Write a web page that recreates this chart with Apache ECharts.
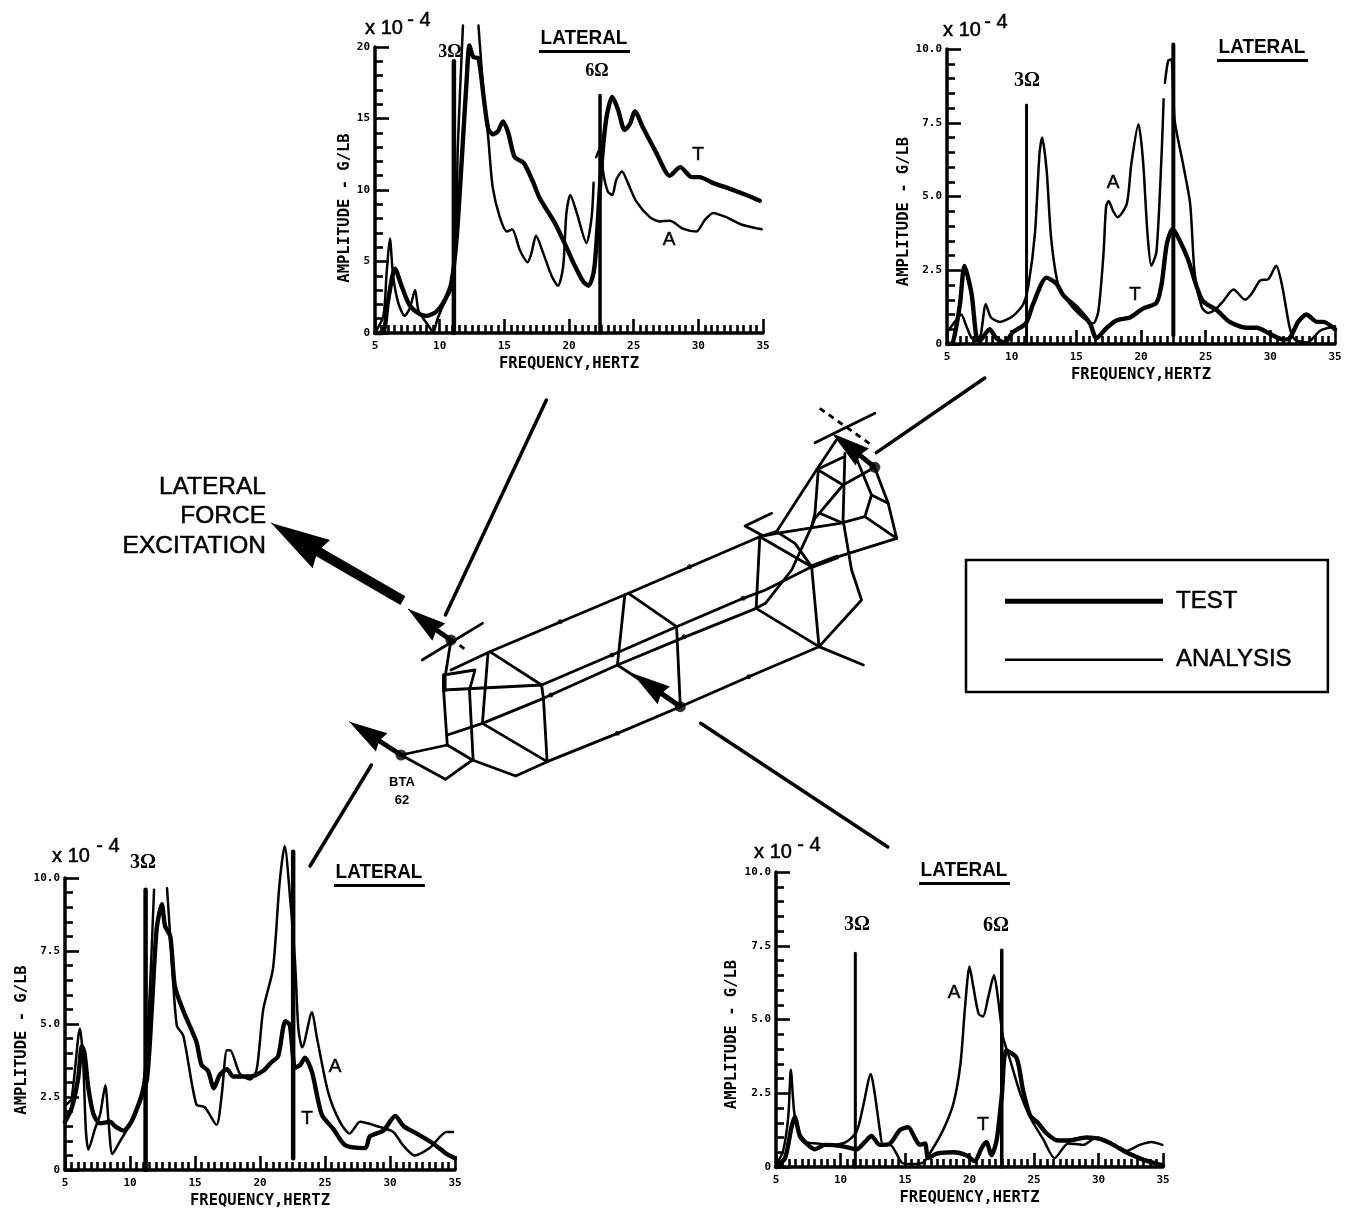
<!DOCTYPE html>
<html><head><meta charset="utf-8">
<style>html,body{margin:0;padding:0;background:#fff}#c{width:1346px;height:1210px;filter:blur(0.4px)}</style>
<script src="https://cdn.jsdelivr.net/npm/echarts@6/dist/echarts.min.js"></script>
</head><body><div id="c"></div>
<script>
// ---- Frequency-response curves: [frequency Hz, amplitude] ----
const topLeftTest=[[5,0],[5.6,0],[6,2.2],[6.55,4.5],[7.05,3.3],[7.7,1.9],[8.5,1.3],[9,1.2],[9.75,1.5],[10.4,2.3],[10.9,3.5],[11.3,6.5],[11.7,12],[12.1,17.9],[12.3,20.1],[12.6,19.3],[13,19.2],[13.4,16.5],[13.75,14.3],[14.1,13.9],[14.5,14.1],[14.9,14.8],[15.3,14],[15.8,12.3],[16.5,11.9],[17.2,10.6],[17.75,9.4],[18.9,7.7],[19.8,6],[20.45,4.7],[21.1,3.6],[21.5,3.3],[21.9,4.2],[22.1,6],[22.5,11.6],[22.9,15.1],[23.35,16.5],[23.8,15.6],[24.3,14.2],[24.7,14.6],[25.1,15.5],[25.7,14.4],[26.75,12.6],[27.8,11],[28.6,11.6],[29.5,10.9],[30.1,10.9],[31.1,10.5],[32.4,10.1],[33.7,9.65],[34.75,9.25]];
const topLeftAnalysis=[[5,0],[5.65,1.2],[5.9,4.2],[6.15,6.6],[6.4,4],[6.8,2.1],[7.3,1.2],[7.7,1.75],[8.1,3],[8.35,1.6],[8.75,1],[9.25,0.35],[9.5,0],[9.8,0.9],[10.4,2.2],[11,3.3],[11.3,8.1],[11.4,13],[11.8,21.5],[12.4,null],[13,21.5],[13.4,16.7],[13.75,13.7],[14.1,10.2],[14.65,8.1],[15.2,7.1],[15.6,7.25],[16.2,5.8],[16.8,4.95],[17.1,5.6],[17.45,6.8],[18,5.6],[18.65,4],[19.15,3.3],[19.55,4.65],[19.8,8.4],[20.1,9.65],[20.6,8.4],[21.35,6.3],[21.75,8.1],[21.9,10.5],[22,null],[22.1,12.3],[22.45,13],[22.65,11.2],[23,9.9],[23.35,9.65],[23.65,10.7],[24.1,11.3],[24.55,10.5],[25.2,9.2],[26.25,8.1],[27,7.8],[27.8,7.85],[28.8,7.3],[29.85,7.1],[30.5,7.9],[31.15,8.4],[32.15,8.1],[33.45,7.55],[34.9,7.25]];
const topLeft3P=[[11.1,0],[11.1,19]];
const topLeft6P=[[22.4,0],[22.4,16.6]];

const topRightTest=[[5,0],[5.45,0.05],[6,1.35],[6.35,2.65],[6.9,1.7],[7.25,0.3],[7.5,0.1],[8.3,0.5],[8.8,0.2],[9.45,0.05],[10.1,0.4],[11.1,0.7],[11.65,1.35],[12.7,2.25],[13.45,2.05],[14,1.65],[15,1.25],[16.05,0.7],[16.55,0.2],[17.35,0.55],[18.1,0.8],[19.15,0.9],[20.15,1.2],[21.2,1.4],[21.6,2.05],[22,3.4],[22.45,3.9],[23,3.5],[23.65,2.85],[24.3,1.95],[24.8,1.45],[25.85,1.15],[26.85,0.75],[28.15,0.55],[28.95,0.55],[29.95,0.35],[31,0.15],[31.5,0.2],[32.15,0.75],[32.8,1],[33.6,0.75],[34.1,0.75],[35,0.5]];
const topRightAnalysis=[[5,0.4],[5.7,0.8],[6.1,1],[6.5,0.6],[6.9,0.2],[7.25,0.1],[7.6,0.3],[8,1.35],[8.4,0.9],[9.1,0.75],[10.1,0.95],[10.9,1.35],[11.3,2],[11.8,3.75],[12.15,6.45],[12.35,7],[12.7,5.9],[13.05,3.6],[13.6,2],[14.25,1.5],[15.25,1],[16.3,0.7],[16.7,1.1],[17.1,3.05],[17.3,4.65],[17.5,4.85],[17.85,4.5],[18.2,4.3],[18.9,4.75],[19.25,6.1],[19.8,7.45],[20.15,6.25],[20.5,3.75],[20.8,2.65],[21.2,3.15],[21.6,6.5],[21.75,8.3],[21.8,null],[21.85,8.85],[22.1,9.6],[22.35,9.65],[22.6,7.6],[23.25,6.1],[23.8,4.75],[24.15,2.4],[24.7,1.25],[25.2,1.05],[25.7,1.15],[26.35,1.45],[27.15,1.85],[28.05,1.5],[28.55,1.7],[29.2,2.15],[29.85,2.2],[30.45,2.65],[30.9,2],[31.5,0.55],[31.9,0.15],[32.85,0.05],[33.85,0.45],[35,0.6]];
const topRight3P=[[11.15,0],[11.15,8.1]];
const topRight6P=[[22.5,0.3],[22.5,10.15]];

const bottomLeftTest=[[5,1.65],[5.5,2.1],[6,3.1],[6.3,4.25],[6.5,4],[6.8,2.8],[7.2,1.9],[7.7,1.6],[8.45,1.65],[8.85,1.5],[9.5,1.35],[10.1,1.65],[10.75,2.35],[11.3,3.1],[11.65,5.3],[12.05,8.25],[12.45,9.1],[12.7,8.35],[13.1,8],[13.45,6.3],[14.1,5.45],[15.1,4.4],[15.5,3.6],[16,3.4],[16.45,2.8],[16.9,3.25],[17.45,3.45],[17.95,3.2],[19.25,3.2],[20.25,3.4],[20.9,3.7],[21.4,3.9],[21.95,5.1],[22.3,4.95],[22.7,3.5],[23.1,3.6],[23.45,3.85],[24,3.35],[24.75,1.9],[25.65,1.4],[26.55,0.85],[28.1,0.75],[28.45,1.15],[29.5,1.35],[30.4,1.85],[31.05,1.5],[32.05,1.25],[33.35,0.9],[34.35,0.55],[35,0.4]];
const bottomLeftAnalysis=[[5,2.2],[5.5,2.45],[6.15,4.85],[6.4,3.7],[6.6,1.4],[6.8,0.7],[7.3,1.4],[7.7,1.9],[8.1,2.9],[8.35,1.65],[8.65,0.55],[9.25,1],[10.1,1.65],[11,2.9],[11.4,5],[11.85,9.6],[12.4,null],[12.85,9.65],[13.2,7.3],[13.6,4.95],[14.1,4.6],[15.1,2.25],[15.75,2.15],[16.65,1.55],[17.05,2.55],[17.45,4.1],[17.7,4.1],[18.45,3.3],[19.25,3.1],[19.75,3.45],[20.25,5.5],[21,6.9],[21.5,9.8],[21.9,11.1],[22.3,9.4],[22.7,7.1],[22.95,4.85],[23.25,4.2],[24,5.4],[24.35,4.6],[25.25,2.65],[26.15,1.65],[26.9,1.25],[27.7,1.65],[29,1.5],[30.25,1.3],[31,0.85],[31.9,0.5],[33.05,0.75],[34.35,1.3],[34.85,1.3]];
const bottomLeft3P=[[11.2,0],[11.2,9.6]];
const bottomLeft6P=[[22.55,0.4],[22.55,10.9]];

const bottomRightTest=[[5,0],[5.7,0.3],[6.2,1.35],[6.45,1.7],[6.85,1.05],[7.35,0.8],[8,0.6],[8.8,0.75],[10.2,0.7],[11.25,0.6],[11.9,0.85],[12.4,1.05],[13.05,0.75],[13.85,0.8],[14.6,1.25],[15.25,1.35],[15.75,1],[16.15,0.75],[16.55,0.8],[16.8,0.3],[17.45,0.45],[18.75,0.5],[19.75,0.4],[20.4,0.2],[20.95,0.65],[21.3,0.85],[21.7,0.4],[22.1,0.9],[22.5,2.4],[22.85,3.95],[23.65,3.7],[24.15,2.6],[24.7,1.75],[25.3,1.5],[25.95,1.15],[26.85,0.9],[27.75,0.9],[29.05,1],[30.1,0.95],[31.15,0.75],[32.15,0.5],[33.45,0.25],[34.6,0.1],[35,0.05]];
const bottomRightAnalysis=[[5,0.05],[5.55,0.55],[5.95,1.7],[6.15,3.3],[6.4,1.9],[6.7,1.25],[7.35,0.85],[8.15,0.8],[9.45,0.75],[10.45,0.85],[11.25,1.2],[11.75,2.05],[12.35,3.15],[12.65,2.5],[13.05,1.25],[13.3,0.75],[13.85,0.75],[14.75,0.15],[15.4,0.1],[16.4,0.15],[17.05,0.55],[17.95,1.25],[18.75,2.15],[19.3,3.5],[19.65,5.4],[20,6.8],[20.3,6.1],[20.7,5.2],[21.05,5.1],[21.45,5.75],[21.9,6.5],[22.2,5.75],[22.6,4.4],[23.1,3.7],[24,2.4],[24.8,1.6],[25.7,0.95],[26.6,0.3],[27.65,0.8],[28.8,0.75],[29.85,1],[30.85,0.85],[32.15,0.55],[33.2,0.75],[34.1,0.85],[34.95,0.75]];
const bottomRight3P=[[11.15,0],[11.15,7.25]];
const bottomRight6P=[[22.5,0],[22.5,7.35]];

// ---- Airframe diagram, in the diagram's own coordinates ----
const wireframe=[
[[300,840],[405,785],[780,610],[1135,440],[1180,425]],
[[780,610],[910,710]],[[770,615],[750,825]],
[[405,785],[545,885]],[[400,790],[385,1000]],
[[545,885],[735,795],[910,710],[1090,625],[1150,600],[1275,530],[1347,500],[1505,445]],
[[550,925],[750,825],[935,740],[1125,655]],
[[290,1035],[385,1000],[550,925]],
[[545,885],[550,925],[560,1115]],[[385,1000],[560,1115]],
[[280,900],[545,885]],
[[280,855],[280,900],[290,1065]],
[[280,855],[365,840],[350,900],[360,1110]],
[[300,750],[285,855]],
[[290,1065],[165,1095],[285,1168],[358,1110],[475,1158],[560,1115]],
[[290,1065],[358,1110]],
[[560,1115],[750,1030],[920,950],[1105,860],[1295,770]],
[[910,710],[920,950]],[[750,825],[920,950]],
[[1135,440],[1125,655],[1295,770]],
[[1135,440],[1275,530],[1295,770]],
[[1295,770],[1415,825]],
[[1180,425],[1288,240],[1342,150]],
[[1293,240],[1284,370],[1275,410],[1221,540],[1150,640],[1125,655]],
[[1293,240],[1360,285],[1441,235]],
[[1360,285],[1284,385],[1275,410]],
[[1365,190],[1360,390],[1383,540],[1410,630],[1295,770]],
[[1297,235],[1360,202]],
[[1446,235],[1482,340],[1505,445],[1419,380],[1437,315],[1396,205]],
[[1437,315],[1482,340]],
[[1419,380],[1351,400],[1180,430],[1135,440]],
[[1297,370],[1360,400]],
[[1180,425],[1230,460],[1275,530]],
[[1167,370],[1095,408],[1140,435]],
[[1284,158],[1446,70]],[[222,810],[385,700]]];
const wireThick=[[[1275,530],[1347,500]],[[282,855],[282,905]]];
const rotorDashes=[[[1297,55],[1437,165]],[[300,745],[340,780]]];
const leaders=[
[[558,30],[285,675]],[[1450,188],[1743,-36]],
[[975,1000],[1481,1371]],[[85,1125],[-81,1428]]];
// arrow shafts run from the gauge node into the back of the head; heads run from there to the tip
const arrowShafts=[[[165,1095],[90,1041]],[[920,950],[850,896]],[[300,750],[245,708]],[[1446,232],[1390,182]]];
const arrowHeads=[[[111,1056],[25,995]],[[874,915],[790,850]],[[268,727],[184,657]],[[1411,200],[1330,130]]];
const forceShaft=[[[170,632],[-90,465]]];
const forceHead=[[[-51,492],[-186,399]]];
const framePins=[[595,695],[945,530],[1090,625],[930,740],[570,915],[735,795],[750,1030],[1105,860]];
const gaugeNodes=[[300,750],[920,950],[165,1095],[1446,232]];

const yLabelsFull=['0','2.5','5.0','7.5','10.0'];
const yLabelsTopLeft=['0','5','10','15','20'];

// ---- Layout ----
const panels=[
 {box:[375,47,388,286],max:20,step:5,labels:yLabelsTopLeft,test:topLeftTest,ana:topLeftAnalysis,p3:topLeft3P,p6:topLeft6P,nameGap:22,shift:36,w3:4.5,w6:3.5},
 {box:[947,49,388,295],max:10,step:2.5,labels:yLabelsFull,test:topRightTest,ana:topRightAnalysis,p3:topRight3P,p6:topRight6P,nameGap:35,shift:30,w3:3,w6:4},
 {box:[65,878,390,295],max:10,step:2.5,labels:yLabelsFull,test:bottomLeftTest,ana:bottomLeftAnalysis,p3:bottomLeft3P,p6:bottomLeft6P,nameGap:35,shift:32,w3:4.5,w6:4.5},
 {box:[776,872,387,295],max:10,step:2.5,labels:yLabelsFull,test:bottomRightTest,ana:bottomRightAnalysis,p3:bottomRight3P,p6:bottomRight6P,nameGap:36,shift:30,w3:3,w6:3.5}
];
const MONO='"DejaVu Sans Mono",monospace', SANS='"Liberation Sans",Arial,sans-serif', SERIF='"Liberation Serif",serif';
const HEAD='path://M50,50 L64,100 L50,96 L36,100 Z M0,0 L0,0 M100,100 L100,100';
const grids=[],xAxes=[],yAxes=[],series=[];
panels.forEach((p,i)=>{
  grids.push({left:p.box[0],top:p.box[1],width:p.box[2],height:p.box[3]});
  xAxes.push({type:'value',gridIndex:i,min:5,max:35,interval:5,
    axisLine:{lineStyle:{color:'#000',width:3.5}},
    axisTick:{inside:true,length:14,lineStyle:{color:'#000',width:2.6}},
    minorTick:{show:true,splitNumber:10,length:8,lineStyle:{color:'#000',width:2.6}},
    splitLine:{show:false},minorSplitLine:{show:false},
    axisLabel:{color:'#000',fontFamily:MONO,fontWeight:'bold',fontSize:11,margin:8,showMinLabel:true,showMaxLabel:true},
    name:'FREQUENCY,HERTZ',nameLocation:'middle',nameGap:23,
    nameTextStyle:{color:'#000',fontFamily:MONO,fontWeight:'bold',fontSize:15.5}});
  yAxes.push({type:'value',gridIndex:i,min:0,max:p.max,interval:p.step,
    axisLine:{show:true,lineStyle:{color:'#000',width:3.5}},
    axisTick:{show:true,inside:true,length:14,lineStyle:{color:'#000',width:2.6}},
    minorTick:{show:true,splitNumber:5,length:8,lineStyle:{color:'#000',width:2.6}},
    splitLine:{show:false},minorSplitLine:{show:false},
    axisLabel:{color:'#000',fontFamily:MONO,fontWeight:'bold',fontSize:11,margin:5,showMinLabel:true,showMaxLabel:true,
      formatter:(v)=>p.labels[Math.round(v/p.step)]},
    name:'AMPLITUDE - G/LB',nameLocation:'middle',nameGap:p.nameGap,nameRotate:90,
    nameTextStyle:{color:'#000',fontFamily:MONO,fontWeight:'bold',fontSize:15.5,padding:[0,p.shift,0,0]}});
  const line=(name,data,w,smooth)=>({type:'line',name,xAxisIndex:i,yAxisIndex:i,data,symbol:'none',smooth,clip:false,z:3,
    animation:false,lineStyle:{color:'#000',width:w,cap:'round',join:'round'},itemStyle:{color:'#000'},silent:true});
  series.push(line('ANALYSIS',p.ana,2.5,0.25),line('TEST',p.test,4.4,0.25),line('3Ω',p.p3,p.w3,false),line('6Ω',p.p6,p.w6,false));
});
// hidden diagram coordinate frame
grids.push({left:340,top:390,width:580,height:430});
xAxes.push({type:'value',gridIndex:4,min:0,max:1568,show:false,splitLine:{show:false}});
yAxes.push({type:'value',gridIndex:4,min:0,max:1290,inverse:true,show:false,splitLine:{show:false}});
const toLines=a=>a.map(c=>({coords:c}));
const base={type:'lines',coordinateSystem:'cartesian2d',xAxisIndex:4,yAxisIndex:4,clip:false,silent:true,animation:false,z:4};
series.push(
 {...base,name:'wire',polyline:true,data:toLines(wireframe),lineStyle:{color:'#000',width:2.8,opacity:1,cap:'round',join:'round'}},
 {...base,name:'wireThick',polyline:true,data:toLines(wireThick),lineStyle:{color:'#000',width:4.5,opacity:1}},
 {...base,name:'dash',polyline:true,data:toLines(rotorDashes),lineStyle:{color:'#000',width:2.8,type:[6,5],opacity:1}},
 {...base,name:'leader',polyline:true,data:toLines(leaders),lineStyle:{color:'#000',width:3.5,opacity:1,cap:'round'}},
 {...base,name:'arrowShaft',polyline:true,data:toLines(arrowShafts),lineStyle:{color:'#000',width:5,opacity:1}},
 {...base,name:'arrowHead',data:toLines(arrowHeads),symbol:['none',HEAD],symbolSize:77,lineStyle:{color:'#000',width:1,opacity:1}},
 {...base,name:'forceShaft',polyline:true,data:toLines(forceShaft),lineStyle:{color:'#000',width:10,opacity:1}},
 {...base,name:'forceHead',data:toLines(forceHead),symbol:['none',HEAD],symbolSize:118,lineStyle:{color:'#000',width:1,opacity:1}},
 {type:'scatter',name:'pins',xAxisIndex:4,yAxisIndex:4,data:framePins,symbolSize:5,itemStyle:{color:'#000'},silent:true,animation:false,z:5},
 {type:'scatter',name:'nodes',xAxisIndex:4,yAxisIndex:4,data:gaugeNodes,symbolSize:11,itemStyle:{color:'#000'},silent:true,animation:false,z:5}
);
// ---- Annotations ----
const T=(text,x,y,size,font,weight,align,sx)=>({type:'text',x,y,scaleX:sx||1,silent:true,z:10,style:{text,fill:'#000',stroke:'#000',lineWidth:(weight==='bold'?0:0.5),fontSize:size,fontFamily:font||SANS,fontWeight:weight||'normal',align:align||'center',verticalAlign:'middle'}});
const lateral=(cx,y)=>[T('LATERAL',cx,y,21,SANS,'bold','center',0.9),{type:'rect',silent:true,z:10,shape:{x:cx-45,y:y+12,width:91,height:3},style:{fill:'#000'}}];
const graphic=[
 T('LATERAL',266,487,24.5,SANS,'normal','right'),T('FORCE',266,516,24.5,SANS,'normal','right'),T('EXCITATION',266,546,24.5,SANS,'normal','right'),
 T('BTA',402,782,13,SANS,'bold'),T('62',402,800,13,SANS,'bold'),
 ...lateral(584,38),...lateral(1262,47),...lateral(379,872),...lateral(964,870),
 T('x 10',384,28,20),T('- 4',419,20,20),
 T('x 10',962,30,20),T('- 4',996,22,20),
 T('x 10',71,856,20),T('- 4',108,846,20),
 T('x 10',773,852,20),T('- 4',809,845,20),
 T('3Ω',450,52,18,SERIF,'bold'),T('6Ω',597,71,18,SERIF,'bold'),
 T('3Ω',1027,81,20,SERIF,'bold'),T('3Ω',143,863,20,SERIF,'bold'),
 T('3Ω',857,925,20,SERIF,'bold'),T('6Ω',996,926,20,SERIF,'bold'),
 T('T',698,155,19),T('A',669,240,19),
 T('A',1113,183,19),T('T',1135,295,19),
 T('A',335,1067,19),T('T',307,1119,19),
 T('A',954,993,19),T('T',983,1125,19)
];
const chart=echarts.init(document.getElementById('c'),null,{renderer:'canvas'});
chart.setOption({
 animation:false,backgroundColor:'#fff',
 grid:grids,xAxis:xAxes,yAxis:yAxes,series,graphic,
 legend:{data:[{name:'TEST',icon:'path://M0,0 L0,0 M0,4.5 H158 V9.5 H0 Z M158,14 L158,14'},{name:'ANALYSIS',icon:'path://M0,0 L0,0 M0,5.75 H158 V8.25 H0 Z M158,14 L158,14'}],
   orient:'vertical',left:966,top:560,padding:[29,36,20,39],itemWidth:158,itemHeight:14,itemGap:34,
   borderColor:'#000',borderWidth:2.5,selectedMode:false,
   textStyle:{color:'#000',fontSize:24,fontFamily:SANS,padding:[2,0,0,8],textBorderColor:'#000',textBorderWidth:0.5}}
});
</script></body></html>
